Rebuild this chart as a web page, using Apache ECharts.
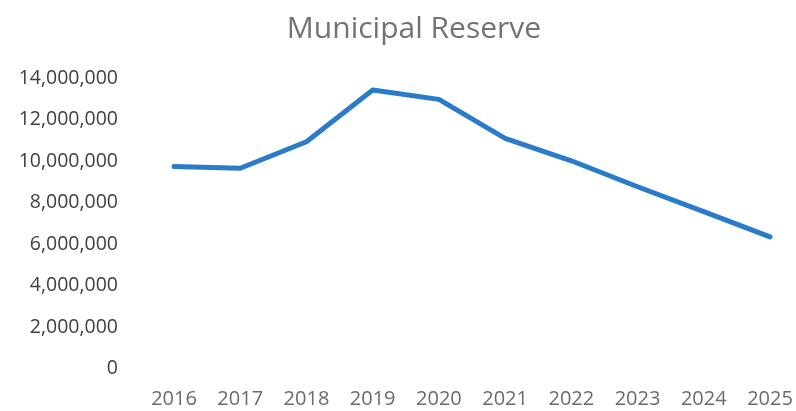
<!DOCTYPE html>
<html><head><meta charset="utf-8">
<script src="https://cdn.jsdelivr.net/npm/echarts@6/dist/echarts.min.js"></script>
<style>html,body{margin:0;padding:0;background:#fff}#c{width:796px;height:411px}</style>
</head><body><div id="c"></div>
<script>
const years = ['2016','2017','2018','2019','2020','2021','2022','2023','2024','2025'];
const reserve = [9730000, 9650000, 10930000, 13420000, 12970000, 11090000, 10010000, 8760000, 7560000, 6340000];
const chart = echarts.init(document.getElementById('c'));
chart.setOption({
  animation: false,
  backgroundColor: '#fff',
  title: {
    text: 'Municipal Reserve', left: 409, top: 9, textAlign: 'center',
    textStyle: {fontFamily: 'Open Sans', fontSize: 30, fontWeight: 'normal', color: '#737373'}
  },
  grid: {left: 174, right: 26, top: 78, bottom: 42.5, containLabel: false},
  xAxis: {
    type: 'category', data: years, boundaryGap: false,
    axisLine: {show: false}, axisTick: {show: false},
    axisLabel: {margin: 21, fontFamily: 'Open Sans', fontSize: 20, color: '#6b6b6b'}
  },
  yAxis: {
    type: 'value', min: 0, max: 14000000, interval: 2000000,
    splitLine: {show: false}, axisLine: {show: false}, axisTick: {show: false},
    axisLabel: {margin: 56, fontFamily: 'Open Sans', fontSize: 19.5, color: '#3f3f3f',
      formatter: v => v.toLocaleString('en-US')}
  },
  series: [{
    type: 'line', data: reserve, showSymbol: false,
    lineStyle: {color: '#2a7bc9', width: 5, join: 'round', cap: 'round'}
  }]
});
</script></body></html>
